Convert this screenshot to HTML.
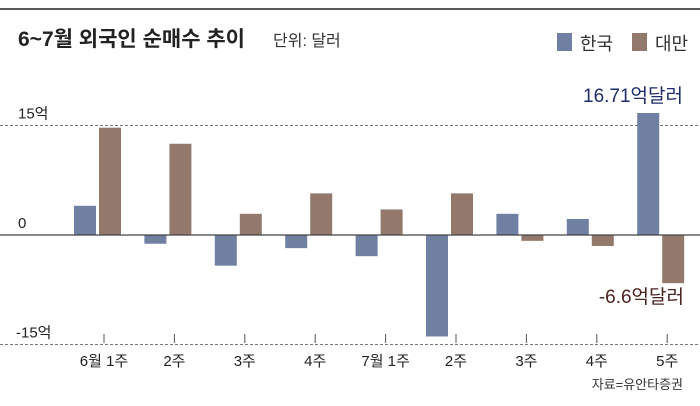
<!DOCTYPE html>
<html><head><meta charset="utf-8"><style>
body{margin:0;background:#fff;width:700px;height:401px;overflow:hidden;font-family:"Liberation Sans","Noto Sans CJK KR",sans-serif}
svg text{font-family:"Liberation Sans","Noto Sans CJK KR",sans-serif}
</style></head><body>
<svg width="700" height="401">
<line x1="0" y1="9" x2="700" y2="9" stroke="#222" stroke-width="1.5"/>
<text x="18" y="46" font-size="21" font-weight="bold" fill="#222">6~7월 외국인 순매수 추이</text>
<text x="273" y="46" font-size="16" fill="#333">단위: 달러</text>
<rect x="557" y="33" width="15" height="18" fill="#6f80a3"/>
<text x="580" y="50" font-size="18" fill="#333">한국</text>
<rect x="632" y="33" width="15" height="18" fill="#93796c"/>
<text x="655" y="50" font-size="18" fill="#333">대만</text>
<g id="plot"></g>
<text x="683" y="389" font-size="13" fill="#333" text-anchor="end">자료=유안타증권</text>
</svg>
<script>
const categories=["6월 1주","2주","3주","4주","7월 1주","2주","3주","4주","5주"];
const korea=[4.0,-1.2,-4.2,-1.8,-2.9,-13.9,2.9,2.2,16.71];
const taiwan=[14.7,12.5,2.9,5.7,3.5,5.7,-0.8,-1.5,-6.6];
const yTicks=[15,0,-15];
const yTickLabels=["15억","0","-15억"];
const NS="http://www.w3.org/2000/svg";
const g=document.getElementById('plot');
function y(v){return 235-v*7.3;}
function x(i){return 74+i*70.4;}
function mk(tag,a){const e=document.createElementNS(NS,tag);for(const k in a)e.setAttribute(k,a[k]);g.appendChild(e);return e;}
yTicks.forEach((t,i)=>{
  if(t!==0){const l=mk('line',{x1:0,x2:700,y1:y(t),y2:y(t),stroke:'#777','stroke-dasharray':'3,2','stroke-width':1});
  
  }
  const tx=mk('text',{x:t<0?16:18,y:y(t)-7,'font-size':15,fill:'#222'});
  tx.textContent=yTickLabels[i];
  
  
});
categories.forEach((c,i)=>{
  const k=korea[i],t=taiwan[i];
  const b1=mk('rect',{x:x(i),y:Math.min(y(0),y(k)),width:22,height:Math.abs(y(k)-y(0)),fill:'#6f80a3'});
  
  
  const b2=mk('rect',{x:x(i)+25,y:Math.min(y(0),y(t)),width:22,height:Math.abs(y(t)-y(0)),fill:'#93796c'});
  
  
  const tk=mk('line',{x1:x(i)+30,x2:x(i)+30,y1:334,y2:343,stroke:'#555'});
  
  
  const lb=mk('text',{x:x(i)+30,y:366,'font-size':15,fill:'#222','text-anchor':'middle'});
  lb.textContent=c;
  
  
});
const z=mk('line',{x1:0,x2:700,y1:y(0),y2:y(0),stroke:'#444','stroke-width':1.2});


const a1=mk('text',{x:683,y:y(korea[8])-11,'font-size':19,fill:'#1f2d6b','text-anchor':'end'});
a1.textContent=korea[8]+"억달러";


const a2=mk('text',{x:684,y:y(taiwan[8])+20,'font-size':19,fill:'#4a2420','text-anchor':'end'});
a2.textContent=taiwan[8]+"억달러";


</script>
</body></html>
